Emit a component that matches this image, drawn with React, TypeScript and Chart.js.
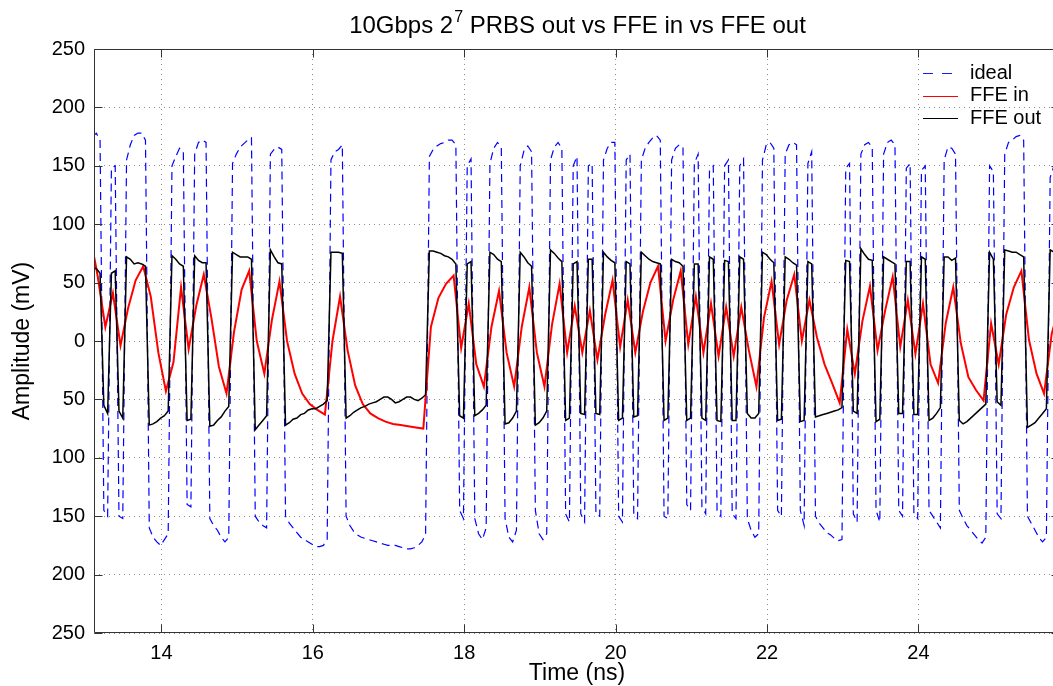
import React, { useEffect, useRef } from "react";
import { Chart, registerables } from "chart.js";

Chart.register(...registerables);

// ---- data read from the reference (mV), sampled on a 0.05 ns grid starting at 13.09 ns
// (two samples per 100 ps bit: early / late in each bit)
const WAVE_T0 = 13.09;
const WAVE_DT = 0.05;

const idealMv = [
  175,
  178, 172, -145, -150, 148, 150, -150, -152, 155, 168, 176, 178, 178, 172, -160, -168,
  -172, -175, -170, -165, 150, 158, 165, 162, -140, -142, 160, 170, 172, 170, -152, -158,
  -162, -168, -172, -168, 152, 160, 166, 169, 172, 174, -150, -155, -158, -160, 160, 164,
  166, 164, -150, -156, -160, -164, -168, -170, -172, -174, -176, -176, -175, -170, 155, 162,
  164, 168, -150, -158, -163, -166, -168, -169, -170, -171, -172, -173, -174, -175, -175, -175,
  -176, -177, -178, -178, -177, -175, -172, -166, 158, 164, 167, 169, 170, 172, 172, 168,
  -145, -152, 150, 156, -152, -165, -170, -160, 152, 165, 170, 166, -152, -168, -172, -162,
  150, 163, 167, 162, -145, -165, -170, -165, 155, 166, 170, 165, -148, -155, 150, 158,
  -148, -155, 150, 152, -148, -150, 155, 165, 170, 170, -150, -155, 155, 160, -148, -152,
  155, 165, 170, 174, 176, 172, -150, -152, 155, 165, 168, 166, -140, -145, 152, 160,
  -142, -148, 146, 150, -145, -150, 150, 155, -148, -152, 150, 156, -152, -162, -168, -165,
  155, 168, 170, 165, -145, -150, 160, 168, 170, 168, -145, -158, 152, 162, -150, -156,
  -160, -164, -166, -169, -171, -170, 148, 152, -148, -155, 160, 168, 170, 166, -145, -155,
  160, 170, 172, 168, -145, -150, 148, 152, -148, -152, 146, 150, -145, -150, -155, -160,
  155, 166, 165, 160, -145, -152, -158, -162, -166, -170, -173, -168, 150, 145, -148, -152,
  160, 170, 172, 175, 176, 172, -150, -156, -162, -168, -172, -168, 140, 150,
  160,
];

const ffeOutMv = [
  62,
  62, 58, -55, -62, 58, 60, -60, -66, 72, 70, 66, 67, 66, 64, -72, -71,
  -69, -66, -64, -60, 73, 70, 66, 64, -68, -67, 73, 69, 67, 67, -73, -72,
  -68, -65, -60, -56, 76, 74, 72, 72, 72, 70, -76, -72, -68, -64, 78, 72,
  67, 66, -72, -70, -67, -66, -63, -62, -59, -58, -58, -56, -54, -51, 76, 76,
  76, 75, -66, -64, -61, -59, -57, -56, -54, -53, -52, -50, -48, -48, -50, -53,
  -52, -50, -48, -48, -50, -51, -49, -46, 77, 77, 76, 75, 73, 72, 70, 66,
  -64, -66, 66, 68, -64, -62, -59, -55, 76, 74, 70, 68, -71, -70, -66, -60,
  76, 72, 67, 64, -72, -70, -66, -60, 78, 75, 71, 68, -68, -66, 66, 68,
  -62, -63, 70, 70, -62, -63, 76, 72, 69, 67, -68, -66, 68, 66, -65, -64,
  76, 73, 70, 68, 67, 66, -68, -66, 70, 68, 67, 64, -68, -66, 66, 66,
  -66, -68, 72, 70, -68, -69, 69, 68, -68, -68, 72, 70, -62, -66, -66, -62,
  76, 74, 70, 67, -68, -67, 72, 70, 67, 65, -69, -68, 68, 66, -65, -64,
  -63, -62, -61, -60, -59, -57, 69, 68, -60, -62, 79, 74, 70, 69, -69, -67,
  72, 70, 68, 66, -62, -62, 68, 68, -63, -63, 72, 70, -68, -66, -62, -57,
  72, 72, 69, 71, -68, -71, -69, -66, -63, -60, -57, -54, 76, 70, -52, -55,
  78, 77, 76, 76, 74, 72, -74, -72, -70, -66, -62, -58, 78, 76,
  74,
];

// FFE input, one sample per bit (bit centres), starting at 13.06 ns
const IN_T0 = 13.06;
const IN_DT = 0.1;
const ffeInMv = [
  90,
  55, 12, 41, -4, 28, 52, 64, 38, -10, -43, -18, 46, -7, 30, 57, 20,
  -22, -45, 8, 44, 60, 0, -28, 18, 51, 0, -28, -45, -54, -59, -63, 0,
  38, -8, -38, -54, -62, -66, -69, -71, -72, -73, -74, -75, 12, 37, 49, 56,
  -6, 32, -20, -39, 12, 43, -10, -39, 12, 46, -10, -39, 14, 49, -10, 30,
  -10, 26, -16, 22, 52, -5, 35, -10, 25, 50, 64, 0, 35, 60, -3, 38,
  -10, 32, -13, 29, -13, 29, -8, -39, 20, 51, -3, 35, 57, 0, 35, 3,
  -20, -36, -53, 10, -28, 17, 47, -8, 26, 55, -5, 35, -11, 32, -20, -36,
  15, 46, -2, -31, -42, -51, 15, -20, 23, 46, 60, 1, -28, -45, 6, 30,
];

const seriesNames = ["ideal", "FFE in", "FFE out"];
const xTicks = [14, 16, 18, 20, 22, 24];
const xTickLabels = ["14", "16", "18", "20", "22", "24"];
const yTicks = [-250, -200, -150, -100, -50, 0, 50, 100, 150, 200, 250];
const yTickLabels = ["250", "200", "150", "100", "50", "0", "50", "100", "150", "200", "250"];
const titleMain = "10Gbps 2";
const titleSup = "7";
const titleRest = " PRBS out vs FFE in vs FFE out";
const xTitle = "Time (ns)";
const yTitle = "Amplitude (mV)";

const FONT = "'Liberation Sans', Arial, Helvetica, sans-serif";

const toPoints = (vals: number[], t0: number, dt: number) =>
  vals.map((v, i) => ({ x: t0 + i * dt, y: v }));

const decor = {
  id: "decor",
  afterDraw(chart: any) {
    const { ctx, chartArea: a, scales } = chart;
    ctx.save();
    // frame
    ctx.strokeStyle = "#333";
    ctx.lineWidth = 1;
    ctx.setLineDash([]);
    const L = Math.round(a.left) + 0.5;
    const T = Math.round(a.top) + 0.5;
    const B = Math.round(a.bottom) - 0.5;
    const R = Math.round(a.right) - 0.5;
    ctx.beginPath();
    ctx.moveTo(R, T);
    ctx.lineTo(L, T);
    ctx.lineTo(L, B);
    ctx.lineTo(R, B);
    ctx.lineTo(R, T);
    ctx.stroke();
    // inward ticks
    ctx.beginPath();
    xTicks.forEach((v) => {
      const px = Math.round(scales.x.getPixelForValue(v)) + 0.5;
      ctx.moveTo(px, B);
      ctx.lineTo(px, B - 8);
      ctx.moveTo(px, T);
      ctx.lineTo(px, T + 8);
    });
    yTicks.forEach((v) => {
      const py = Math.round(scales.y.getPixelForValue(v)) + 0.5;
      ctx.moveTo(L, py);
      ctx.lineTo(L + 8, py);
      ctx.moveTo(R, py);
      ctx.lineTo(R - 8, py);
    });
    ctx.stroke();

    ctx.fillStyle = "#000";
    // title
    const cx = (a.left + a.right) / 2;
    ctx.textBaseline = "alphabetic";
    ctx.textAlign = "left";
    ctx.font = `24px ${FONT}`;
    const w1 = ctx.measureText(titleMain).width;
    const w3 = ctx.measureText(titleRest).width;
    ctx.font = `16px ${FONT}`;
    const w2 = ctx.measureText(titleSup).width;
    const x0 = cx - (w1 + w2 + w3) / 2;
    const by = 33;
    ctx.font = `24px ${FONT}`;
    ctx.fillText(titleMain, x0, by);
    ctx.font = `16px ${FONT}`;
    ctx.fillText(titleSup, x0 + w1 + 1, by - 11);
    ctx.font = `24px ${FONT}`;
    ctx.fillText(titleRest, x0 + w1 + w2 + 1, by);

    // axis titles
    ctx.font = `23px ${FONT}`;
    ctx.textAlign = "center";
    ctx.fillText(xTitle, cx, 680);
    ctx.save();
    ctx.translate(23, (a.top + a.bottom) / 2);
    ctx.rotate(-Math.PI / 2);
    ctx.textBaseline = "middle";
    ctx.fillText(yTitle, 0, 0);
    ctx.restore();

    // legend
    const rows = [73, 95.5, 118];
    const styles = [
      { c: "#1a1aff", d: [10, 9], w: 1 },
      { c: "#ff0000", d: [], w: 1 },
      { c: "#000000", d: [], w: 1 },
    ];
    ctx.font = `20px ${FONT}`;
    ctx.textAlign = "left";
    ctx.textBaseline = "middle";
    seriesNames.forEach((name, i) => {
      const y = rows[i];
      ctx.strokeStyle = styles[i].c;
      ctx.lineWidth = styles[i].w;
      ctx.setLineDash(styles[i].d);
      ctx.beginPath();
      ctx.moveTo(923, Math.round(y) + 0.5);
      ctx.lineTo(958, Math.round(y) + 0.5);
      ctx.stroke();
      ctx.fillStyle = "#000";
      ctx.fillText(name, 970, y);
    });
    ctx.restore();
  },
};

export default function App() {
  const ref = useRef<HTMLCanvasElement | null>(null);

  useEffect(() => {
    const canvas = ref.current;
    if (!canvas) return;
    const gridCfg = { color: "#8c8c8c", lineWidth: 1, drawTicks: false };
    const chart = new Chart(canvas, {
      type: "line",
      data: {
        datasets: [
          {
            label: seriesNames[0],
            data: toPoints(idealMv, WAVE_T0, WAVE_DT),
            borderColor: "#0000ff",
            borderWidth: 1.2,
            borderDash: [8, 5],
            pointRadius: 0,
            tension: 0,
            order: 3,
          },
          {
            label: seriesNames[1],
            data: toPoints(ffeInMv, IN_T0, IN_DT),
            borderColor: "#ff0000",
            borderWidth: 2,
            pointRadius: 0,
            tension: 0,
            order: 2,
          },
          {
            label: seriesNames[2],
            data: toPoints(ffeOutMv, WAVE_T0, WAVE_DT),
            borderColor: "#000000",
            borderWidth: 1.5,
            pointRadius: 0,
            tension: 0,
            order: 1,
          },
        ],
      },
      options: {
        responsive: false,
        animation: false,
        events: [],
        parsing: false,
        layout: { padding: { top: 49, left: 0, right: 2, bottom: 0 } },
        plugins: {
          legend: { display: false },
          title: { display: false },
          tooltip: { enabled: false },
        },
        scales: {
          x: {
            type: "linear",
            min: 13.11,
            max: 25.87,
            afterBuildTicks: (s: any) => {
              s.ticks = xTicks.map((v) => ({ value: v }));
            },
            afterFit: (s: any) => {
              s.height = 53;
            },
            grid: gridCfg,
            border: { display: false, dash: [1, 4] },
            ticks: {
              color: "#000",
              font: { family: FONT, size: 20 },
              padding: 8,
              maxRotation: 0,
              autoSkip: false,
              callback: (_v: any, i: number) => xTickLabels[i],
            },
          },
          y: {
            type: "linear",
            min: -250,
            max: 250,
            afterBuildTicks: (s: any) => {
              s.ticks = yTicks.map((v) => ({ value: v }));
            },
            afterFit: (s: any) => {
              s.width = 94;
            },
            grid: gridCfg,
            border: { display: false, dash: [1, 4] },
            ticks: {
              color: "#000",
              font: { family: FONT, size: 20 },
              padding: 9,
              autoSkip: false,
              callback: (_v: any, i: number) => yTickLabels[i],
            },
          },
        },
      },
      plugins: [decor],
    } as any);
    return () => chart.destroy();
  }, []);

  return (
    <div
      style={{
        position: "fixed",
        left: 0,
        top: 0,
        width: 1053,
        height: 686,
        overflow: "hidden",
        background: "#fff",
      }}
    >
      <canvas ref={ref} width={1062} height={686} style={{ display: "block", width: 1062, height: 686 }} />
    </div>
  );
}
